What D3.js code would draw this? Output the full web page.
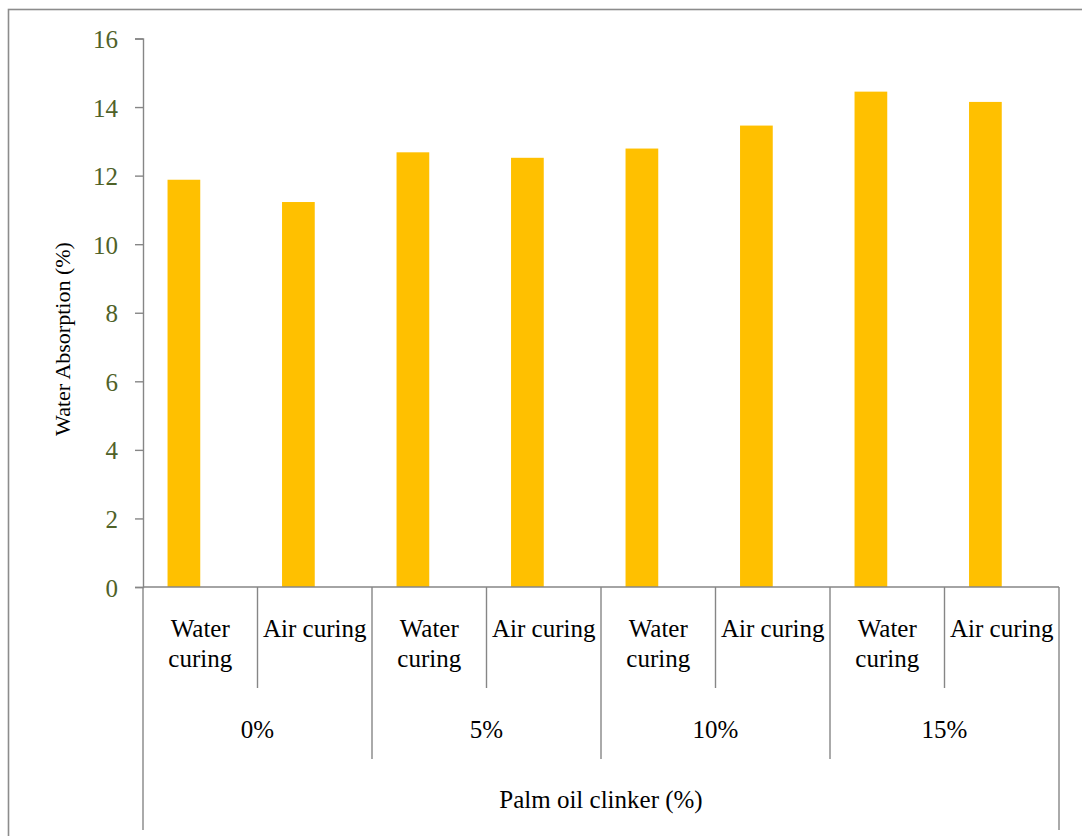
<!DOCTYPE html>
<html>
<head>
<meta charset="utf-8">
<script src="https://cdn.jsdelivr.net/npm/d3@7"></script>
<style>
  html, body { margin: 0; padding: 0; background: #fff; }
  svg { display: block; }
  text { font-family: "Liberation Serif", "Times New Roman", serif; }
</style>
</head>
<body>
<svg id="chart" width="1082" height="836"></svg>
<script>
// Palm oil clinker content groups and curing methods
const groups = ["0%", "5%", "10%", "15%"];
const curingMethods = ["Water curing", "Air curing"];
// Water absorption (%) for each group × curing method, in order
const absorption = [11.88, 11.23, 12.68, 12.52, 12.79, 13.46, 14.45, 14.15];
const yTicks = [0, 2, 4, 6, 8, 10, 12, 14, 16];
const xTitle = "Palm oil clinker (%)";
const yTitle = "Water Absorption (%)";

(function () {
  const rows = [];
  groups.forEach((g, gi) => {
    curingMethods.forEach((c, ci) => {
      rows.push({ key: g + "|" + c, group: g, curing: c, value: absorption[gi * curingMethods.length + ci] });
    });
  });

  const svg = d3.select("#chart");
  const axisColor = "#868686";
  const plotLeft = 143, plotRight = 1059, plotTop = 38.5, plotBottom = 587;

  // Outer chart frame
  svg.append("rect")
    .attr("x", 8.5).attr("y", 9.5)
    .attr("width", 1200).attr("height", 1000)
    .attr("fill", "none").attr("stroke", "#8c8c8c").attr("stroke-width", 1.6);

  const y = d3.scaleLinear().domain([0, 16]).range([plotBottom, plotTop]);
  const x0 = d3.scaleBand().domain(rows.map(d => d.key)).range([plotLeft, plotRight]).paddingInner(0).paddingOuter(0);
  // Two series slots per category; only the first one carries a bar
  const x1 = d3.scaleBand().domain(["s1", "s2"]).range([0, x0.bandwidth()]).paddingInner(0).paddingOuter(0.75);

  // Bars
  svg.append("g").selectAll("rect").data(rows).join("rect")
    .attr("x", d => x0(d.key) + x1("s1"))
    .attr("y", d => y(d.value))
    .attr("width", x1.bandwidth())
    .attr("height", d => y(0) - y(d.value))
    .attr("fill", "#FFC000");

  // Y axis
  const yAxis = svg.append("g")
    .attr("transform", `translate(${plotLeft},0)`)
    .call(d3.axisLeft(y).tickValues(yTicks).tickSize(8).tickPadding(17).tickFormat(d3.format("d")));
  yAxis.select(".domain").attr("stroke", axisColor).attr("stroke-width", 1.4);
  yAxis.selectAll(".tick line").attr("stroke", axisColor).attr("stroke-width", 1.4);
  yAxis.selectAll(".tick text")
    .attr("fill", "#4F6228").attr("font-size", 25)
    .attr("font-family", "Liberation Serif, Times New Roman, serif")
    .attr("dy", "0.36em");

  // X axis baseline
  svg.append("line")
    .attr("x1", plotLeft).attr("x2", plotRight).attr("y1", y(0)).attr("y2", y(0))
    .attr("stroke", axisColor).attr("stroke-width", 1.4);

  // Category separators: outer edges, group boundaries, inner boundaries
  const nCat = rows.length;
  const boundaries = d3.range(nCat + 1).map(i => ({
    i, x: i < nCat ? x0(rows[i].key) : plotRight
  }));
  svg.append("g").selectAll("line").data(boundaries).join("line")
    .attr("x1", d => d.x).attr("x2", d => d.x)
    .attr("y1", y(0))
    .attr("y2", d => (d.i === 0 || d.i === nCat) ? 830 : (d.i % 2 === 0 ? 759 : 688))
    .attr("stroke", axisColor).attr("stroke-width", 1.4);

  // Curing method labels
  const catLabels = svg.append("g").selectAll("text").data(rows).join("text")
    .attr("x", d => x0(d.key) + x0.bandwidth() / 2)
    .attr("y", 637)
    .attr("text-anchor", "middle")
    .attr("font-size", 25)
    .attr("fill", "#000");
  catLabels.each(function (d) {
    const t = d3.select(this);
    const words = d.curing === "Water curing" ? ["Water", "curing"] : [d.curing];
    words.forEach((w, k) => {
      t.append("tspan").attr("x", x0(d.key) + x0.bandwidth() / 2).attr("dy", k === 0 ? 0 : 30).text(w);
    });
  });

  // Group labels, centred under each pair of categories
  svg.append("g").selectAll("text").data(groups).join("text")
    .attr("x", g => x0(g + "|" + curingMethods[0]) + x0.bandwidth())
    .attr("y", 738)
    .attr("text-anchor", "middle")
    .attr("font-size", 25)
    .attr("fill", "#000")
    .text(d => d);

  // Axis titles
  svg.append("text")
    .attr("x", (plotLeft + plotRight) / 2).attr("y", 808)
    .attr("text-anchor", "middle").attr("font-size", 25).attr("fill", "#000")
    .text(xTitle);

  svg.append("text")
    .attr("transform", "translate(70,339) rotate(-90)")
    .attr("text-anchor", "middle").attr("font-size", 22).attr("fill", "#000")
    .text(yTitle);
})();
</script>
</body>
</html>
